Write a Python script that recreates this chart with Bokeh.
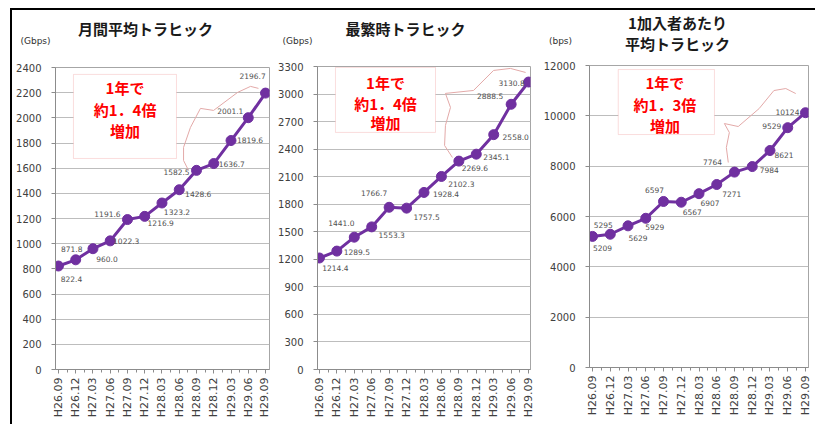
from bokeh.plotting import figure
from bokeh.models import (ColumnDataSource, FixedTicker, Label, BoxAnnotation,
                          NumeralTickFormatter, InlineStyleSheet, Range1d)
from bokeh.layouts import row, column
from bokeh.embed import file_html
from bokeh.resources import INLINE
from bokeh.core.properties import value

# ---------------- data ----------------
categories = ["H26.09", "H26.12", "H27.03", "H27.06", "H27.09", "H27.12", "H28.03",
              "H28.06", "H28.09", "H28.12", "H29.03", "H29.06", "H29.09"]
monthly_avg = [822.4, 871.8, 960.0, 1022.3, 1191.6, 1216.9, 1323.2, 1428.6, 1582.5,
               1636.7, 1819.6, 2001.1, 2196.7]
peak_traffic = [1214.4, 1289.5, 1441.0, 1553.3, 1766.7, 1757.5, 1928.4, 2102.3, 2269.6,
                2345.1, 2558.0, 2888.5, 3130.8]
per_subscriber = [5209, 5295, 5629, 5929, 6597, 6567, 6907, 7271, 7764, 7984, 8621,
                  9529, 10124]

titles = [["月間平均トラヒック"], ["最繁時トラヒック"], ["1加入者あたり", "平均トラヒック"]]
units = ["(Gbps)", "(Gbps)", "(bps)"]
notes = [["1年で", "約1．4倍", "増加"], ["1年で", "約1．4倍", "増加"], ["1年で", "約1．3倍", "増加"]]

# ------------- label placement (pixels, style only) -------------
dx1 = [13, -4, 14, 16, -20, 16, 15, 19, -20, 18, 19, -18, -13]
dy1 = [13, -11, 10, 0, -6, 7, 9, 4, 2, 0, -1, -7, -17]
dx2 = [16, 20, -13, 20, -15, 20, 22, 20, 16, 20, 22, -21, -17]
dy2 = [10, 1, -14, 8, -14, 9, 2, 8, 7, 3, 2, -8, 1]
dx3 = [10, -7, 10, 9, -9, 11, 11, 15, -22, 17, 14, -16, -18]
dy3 = [12, -9, 12, 9, -11, 10, 9, 9, -10, 3, 4, -2, -1]

PURPLE = "#7030A0"
NUM_FONT = "DejaVu Sans"
JP_FONT = "Noto Sans CJK JP"
H = 424
TH = 57  # height of the title strip


def no_align(fig):
    try:
        fig.frame_align = False
    except Exception:
        pass


def make_title(width, title_lines, title_pos, unit, unit_pos):
    t = figure(width=width, height=TH, x_range=Range1d(0, width), y_range=Range1d(TH, 0),
               output_backend="svg", toolbar_location=None, title=None,
               x_axis_location=None, y_axis_location=None,
               min_border_left=0, min_border_right=0, min_border_top=0, min_border_bottom=0)
    no_align(t)
    t.grid.visible = False
    t.outline_line_color = None
    t.background_fill_color = "white"
    t.border_fill_color = "white"
    t.text(x=[pp[0] for pp in title_pos], y=[pp[1] for pp in title_pos], text=title_lines,
           text_font=value(JP_FONT), text_font_style="bold", text_font_size="15px",
           text_color="#1A1A1A", text_align="center", text_baseline="middle")
    t.text(x=[unit_pos[0]], y=[unit_pos[1]], text=[unit],
           text_font=value(NUM_FONT), text_font_size="9px", text_color="#303030",
           text_align="center", text_baseline="middle")
    return t


def make_panel(vals, fmt, dxs, dys, width, fl, fr, ft, fb, xr, ymax, ystep,
               note, box, note_x, note_ys, brace):
    ch = H - TH
    p = figure(width=width, height=ch, x_range=xr, y_range=(0, ymax),
               output_backend="svg", toolbar_location=None,
               min_border_left=fl, min_border_right=width - fr,
               min_border_top=ft - TH, min_border_bottom=H - fb)
    no_align(p)
    p.background_fill_color = "white"
    p.border_fill_color = "white"
    p.outline_line_color = "#A6A6A6"
    p.xgrid.visible = False
    p.ygrid.grid_line_color = "#BDBDBD"
    p.ygrid.ticker = FixedTicker(ticks=list(range(0, ymax + 1, ystep)))

    # y axis
    ya = p.yaxis[0]
    ya.ticker = FixedTicker(ticks=list(range(0, ymax + 1, ystep)))
    ya.formatter = NumeralTickFormatter(format="0")
    ya.axis_line_color = "#8C8C8C"
    ya.major_tick_line_color = "#8C8C8C"
    ya.major_tick_out = 4
    ya.major_tick_in = 0
    ya.minor_tick_line_color = None
    ya.major_label_standoff = 10
    ya.major_label_text_font = NUM_FONT
    ya.major_label_text_font_size = "10px"
    ya.major_label_text_color = "#404040"

    # x axis
    xa = p.xaxis[0]
    xa.ticker = FixedTicker(ticks=list(range(len(categories))),
                            minor_ticks=[i + 0.5 for i in range(-1, len(categories))])
    xa.major_label_overrides = {i: c for i, c in enumerate(categories)}
    xa.major_label_orientation = 1.5707963
    xa.axis_line_color = "#8C8C8C"
    xa.major_tick_line_color = "#8C8C8C"
    xa.minor_tick_line_color = "#8C8C8C"
    xa.major_tick_out = 4
    xa.major_tick_in = 0
    xa.minor_tick_out = 3
    xa.minor_tick_in = 0
    xa.major_label_standoff = 4
    xa.major_label_text_font = NUM_FONT
    xa.major_label_text_font_size = "11px"
    xa.major_label_text_color = "#404040"

    xs = list(range(len(categories)))
    src = ColumnDataSource(dict(x=xs, y=vals, label=[fmt(v) for v in vals], dx=dxs, dy=dys))
    p.line("x", "y", source=src, line_color=PURPLE, line_width=3)
    p.scatter("x", "y", source=src, size=10, fill_color=PURPLE, line_color=PURPLE)
    p.text("x", "y", text="label", x_offset="dx", y_offset="dy", source=src,
           text_font=value(NUM_FONT), text_font_size="7.5px", text_color="#505050",
           text_align="center", text_baseline="middle")

    # brace decoration
    p.line(brace[0], brace[1], line_color="#E3A9A8", line_width=1)

    # note box
    p.add_layout(BoxAnnotation(left=box[0], right=box[1], bottom=box[2], top=box[3],
                               fill_color="white", fill_alpha=1.0,
                               line_color="#EE8E8E", line_width=1, level="overlay"))
    for txt, yy in zip(note, note_ys):
        p.add_layout(Label(x=note_x, y=yy, text=txt, text_align="center",
                           text_baseline="middle", text_color="#FF0000",
                           text_font=JP_FONT, text_font_style="bold",
                           text_font_size="15px", level="overlay"))
    return p


p1 = make_panel(monthly_avg, lambda v: f"{v:.1f}", dx1, dy1,
                270, 55, 269, 67, 369, (-0.17, 12.23), 2400, 200,
                notes[0], (0.87, 6.84, 1677, 2345), 3.86, [2242, 2067, 1900],
                ([7.54, 7.25, 7.25, 7.65, 8.23, 8.99, 10.38, 11.13, 11.59],
                 [1582, 1661, 1765, 1924, 2075, 2059, 2202, 2250, 2234]))
t1 = make_title(270, titles[0], [(145, 28)], units[0], (35, 40))

p2 = make_panel(peak_traffic, lambda v: f"{v:.1f}", dx2, dy2,
                270, 47, 260, 66, 369, (-0.11, 12.11), 3300, 300,
                notes[1], (0.92, 6.66, 2582, 3290), 3.79, [3126, 2898, 2691],
                ([7.63, 7.18, 7.23, 7.52, 7.23, 8.84, 9.99, 10.96, 11.83],
                 [2309, 2440, 2658, 2854, 3007, 3039, 3257, 3279, 3235]))
t2 = make_title(270, titles[1], [(135, 28)], units[1], (27, 40))

p3 = make_panel(per_subscriber, lambda v: f"{v:d}", dx3, dy3,
                275, 47, 268, 65, 367, (-0.17, 12.17), 12000, 2000,
                notes[2], (1.45, 6.87, 9257, 11840), 4.08, [11323, 10449, 9615],
                ([7.65, 7.54, 7.71, 7.43, 8.21, 9.39, 10.22, 10.89, 11.45],
                 [8145, 8741, 9337, 9694, 9575, 10290, 11005, 11085, 10886]))
t3 = make_title(275, titles[2], [(137, 22), (137, 43)], units[2], (20, 40))

frame_css = InlineStyleSheet(css="""
:host { position: relative; }
:host::after { content: ''; position: absolute; left: 10px; top: 8px; right: 0px; bottom: 0px;
  border-top: 2px solid #000; border-left: 2px solid #000; pointer-events: none; }
""")

layout = row(column(t1, p1), column(t2, p2), column(t3, p3), stylesheets=[frame_css])

open("out.html", "w").write(file_html(layout, INLINE))
